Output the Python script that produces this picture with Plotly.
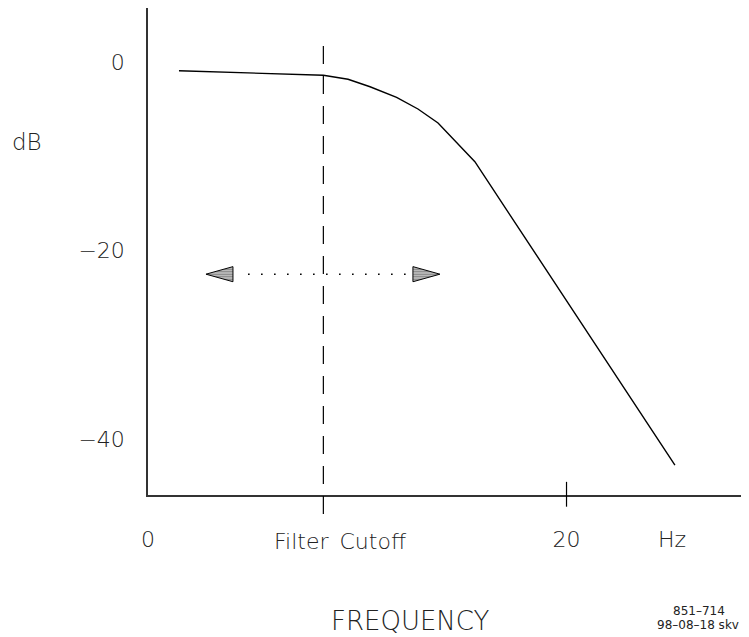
import plotly.graph_objects as go

# ---- data ----
freq = [1.48, 8.38, 9.56, 10.61, 11.88, 12.90, 13.86, 14.76, 15.62, 25.18]
gain_db = [-0.92, -1.41, -1.83, -2.62, -3.74, -4.98, -6.47, -8.59, -10.57, -42.74]
cutoff_freq = 8.38

x_tick_vals = [0, 20, 25.04]
x_tick_text = ["0", "20", "Hz"]
y_tick_vals = [0, -20, -40]
y_tick_text = ["0", "\u221220", "\u221240"]

arrow_level = -22.5
arrow_half = 0.8
left_arrow = [2.77, 4.06]     # tip, base
right_arrow = [12.66, 13.95]  # base, tip
dotted_span = [4.78, 12.52]

x_range = [0, 28.72]
y_range = [-45.92, 5.73]

FONT = "DejaVu Sans"
INK = "#222222"

fig = go.Figure()

# response curve
fig.add_trace(go.Scatter(x=freq, y=gain_db, mode="lines",
                         line=dict(color="black", width=1.4),
                         hoverinfo="skip", showlegend=False))

# dotted range line
fig.add_trace(go.Scatter(x=dotted_span, y=[arrow_level, arrow_level], mode="lines",
                         line=dict(color="black", width=1.6, dash="1.6px,11.4px"),
                         hoverinfo="skip", showlegend=False))

# hatched arrowheads
pattern = dict(shape="-", size=2.5, solidity=0.7, fgcolor="black", bgcolor="white")
lt, lb = left_arrow
fig.add_trace(go.Scatter(x=[lt, lb, lb, lt],
                         y=[arrow_level, arrow_level + arrow_half, arrow_level - arrow_half, arrow_level],
                         mode="lines", fill="toself", fillpattern=pattern,
                         line=dict(color="black", width=1),
                         hoverinfo="skip", showlegend=False))
rb, rt = right_arrow
fig.add_trace(go.Scatter(x=[rt, rb, rb, rt],
                         y=[arrow_level, arrow_level + arrow_half, arrow_level - arrow_half, arrow_level],
                         mode="lines", fill="toself", fillpattern=pattern,
                         line=dict(color="black", width=1),
                         hoverinfo="skip", showlegend=False))

# cutoff dashed line and tick mark at 20
fig.add_shape(type="line", xref="x", yref="paper", x0=cutoff_freq, x1=cutoff_freq,
              y0=0.922, y1=-0.041, line=dict(color="black", width=1.2, dash="18px,12px"))
fig.add_shape(type="line", xref="x", yref="paper", x0=x_tick_vals[1], x1=x_tick_vals[1],
              y0=0.027, y1=-0.024, line=dict(color="black", width=1.2))

tick_font = dict(family=FONT, size=22, color=INK, weight=300)

# the page body has an 8px margin, so the figure is drawn 8px smaller and offset
fig.update_layout(
    width=741, height=629,
    margin=dict(l=140, r=0, t=0, b=142),
    paper_bgcolor="white", plot_bgcolor="white",
    showlegend=False,
    xaxis=dict(range=x_range, showgrid=False, zeroline=False,
               showline=True, linecolor="#333333", linewidth=1.5,
               tickmode="array", tickvals=x_tick_vals, ticktext=x_tick_text,
               ticks="", tickfont=tick_font, ticklabelstandoff=24),
    yaxis=dict(range=y_range, showgrid=False, zeroline=False,
               showline=True, linecolor="#333333", linewidth=1.5,
               tickmode="array", tickvals=y_tick_vals, ticktext=y_tick_text,
               ticks="", tickfont=tick_font, ticklabelstandoff=17),
)

fig.add_annotation(text="dB", xref="paper", yref="paper", x=-0.2005, y=0.7255,
                   xanchor="center", yanchor="middle", showarrow=False,
                   font=dict(family=FONT, size=23, color=INK, weight=300))
fig.add_annotation(text="Filter\u2002Cutoff", xref="x", yref="paper", x=cutoff_freq, xshift=17,
                   y=-0.0959, xanchor="center", yanchor="middle", showarrow=False,
                   font=dict(family=FONT, size=22, color=INK, weight=300))
fig.add_annotation(text="FREQUENCY", xref="paper", yref="paper", x=0.4368, y=-0.2587,
                   xanchor="center", yanchor="middle", showarrow=False,
                   font=dict(family=FONT, size=26, color=INK, weight=300))
fig.add_annotation(text="851\u2013714", xref="paper", yref="paper", x=0.9168, y=-0.2372,
                   xanchor="center", yanchor="middle", showarrow=False,
                   font=dict(family=FONT, size=12, color=INK))
fig.add_annotation(text="98\u201308\u201318 skv", xref="paper", yref="paper", x=0.8436, y=-0.2669,
                   xanchor="left", yanchor="middle", showarrow=False,
                   font=dict(family=FONT, size=12, color=INK))

fig.write_html("out.html")
